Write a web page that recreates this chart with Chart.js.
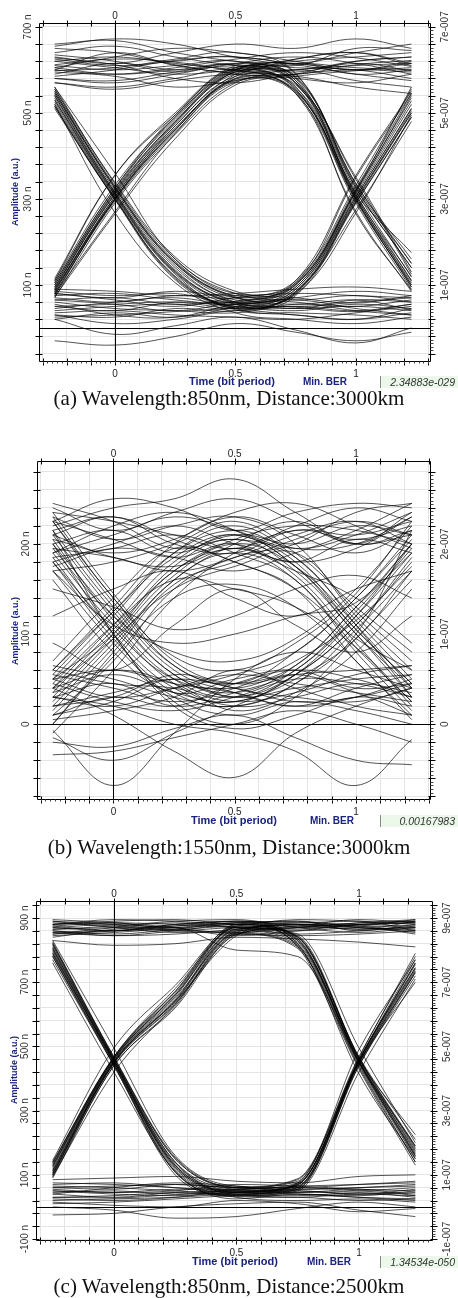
<!DOCTYPE html>
<html>
<head>
<meta charset="utf-8">
<title>Eye diagrams</title>
<script src="https://cdn.jsdelivr.net/npm/chart.js@4.4.1/dist/chart.umd.min.js"></script>
<style>
  body { margin: 0; background: #fff; }
  #page { position: relative; width: 458px; height: 1298px; overflow: hidden; font-family: "Liberation Sans", Arial, sans-serif; }
  canvas { position: absolute; left: 0; }
  .ytitle { position: absolute; font-size: 9px; font-weight: bold; color: #1a237e; white-space: nowrap; transform: translate(-50%, -50%) rotate(-90deg); }
  .xtitle { position: absolute; font-size: 10px; font-weight: bold; color: #1a237e; white-space: nowrap; line-height: 10px; }
  .xtitle.wide { font-size: 11px; line-height: 11px; }
  .berbox { position: absolute; left: 380px; width: 78px; height: 12px; background: #ecf9ea; border-left: 1px solid #888; font-size: 10.5px; font-style: italic; color: #333; text-align: right; line-height: 12px; padding-right: 3px; box-sizing: border-box; }
  .cap { position: absolute; left: 0; width: 458px; text-align: center; font-family: "Liberation Serif", "Times New Roman", serif; font-size: 21px; line-height: 21px; color: #111; white-space: nowrap; }
</style>
</head>
<body>
<div id="page">
  <canvas id="eyeA" width="458" height="379" style="top:0px"></canvas>
  <canvas id="eyeB" width="458" height="381" style="top:436px"></canvas>
  <canvas id="eyeC" width="458" height="382" style="top:876px"></canvas>

  <div class="ytitle" style="left:15px; top:192px">Amplitude (a.u.)</div>
  <div class="xtitle wide" style="left:189px; top:376px">Time (bit period)</div>
  <div class="xtitle" style="left:303px; top:377px">Min. BER</div>
  <div class="berbox" id="berA" style="top:376px"></div>
  <div class="cap" id="capA" style="top:388px"></div>

  <div class="ytitle" style="left:15px; top:631px">Amplitude (a.u.)</div>
  <div class="xtitle wide" style="left:191px; top:815px">Time (bit period)</div>
  <div class="xtitle" style="left:310px; top:816px">Min. BER</div>
  <div class="berbox" id="berB" style="top:815px"></div>
  <div class="cap" id="capB" style="top:837px"></div>

  <div class="ytitle" style="left:14px; top:1070px">Amplitude (a.u.)</div>
  <div class="xtitle wide" style="left:192px; top:1256px">Time (bit period)</div>
  <div class="xtitle" style="left:307px; top:1257px">Min. BER</div>
  <div class="berbox" id="berC" style="top:1256px"></div>
  <div class="cap" id="capC" style="top:1276px"></div>
</div>
<script>
const FONT = '"Liberation Sans", Arial, sans-serif';

// sample times (bit periods) shared by every trace
const TIME = [-0.25, 0, 0.25, 0.5, 0.75, 1, 1.23];
const X_TICKS = [-0.3, -0.2, -0.1, 0, 0.1, 0.2, 0.3, 0.4, 0.5, 0.6, 0.7, 0.8, 0.9, 1, 1.1, 1.2, 1.3];
const X_LABELS = [0, 0.5, 1];

// (a) 850 nm, 3000 km  (amplitudes in n a.u.)
const A_CAPTION = '(a) Wavelength:850nm, Distance:3000km';
const A_BER = '2.34883e-029';
const A_LABEL_VALUES = [100, 300, 500, 700];
const A_LEFT_LABELS = ['100 n', '300 n', '500 n', '700 n'];
const A_RIGHT_LABELS = ['1e-007', '3e-007', '5e-007', '7e-007'];
const A_TRACES = [
  [620, 605, 590, 600, 615, 605, 600],
  [640, 655, 630, 610, 600, 620, 630],
  [580, 570, 590, 615, 630, 615, 590],
  [605, 630, 650, 640, 620, 600, 615],
  [660, 668, 640, 620, 610, 650, 645],
  [595, 585, 560, 575, 600, 575, 560],
  [570, 555, 575, 590, 585, 560, 545],
  [612, 625, 618, 598, 590, 612, 622],
  [585, 600, 622, 630, 612, 590, 575],
  [650, 640, 612, 595, 625, 640, 615],
  [600, 590, 605, 625, 640, 628, 608],
  [628, 612, 580, 570, 590, 600, 595],
  [655, 672, 660, 630, 615, 640, 660],
  [630, 615, 640, 660, 650, 672, 650],
  [610, 600, 610, 620, 575, 310, 120],
  [590, 615, 600, 605, 560, 300, 95],
  [625, 610, 620, 630, 590, 330, 150],
  [570, 560, 580, 600, 545, 270, 85],
  [600, 640, 610, 590, 565, 350, 130],
  [635, 620, 595, 615, 580, 315, 175],
  [605, 590, 600, 612, 570, 305, 110],
  [620, 630, 615, 600, 585, 325, 140],
  [580, 575, 595, 610, 555, 295, 100],
  [598, 605, 625, 640, 592, 335, 160],
  [85, 305, 465, 580, 600, 610, 615],
  [100, 320, 490, 600, 615, 590, 600],
  [70, 290, 450, 570, 590, 620, 630],
  [110, 355, 500, 610, 605, 600, 580],
  [90, 300, 470, 590, 625, 640, 610],
  [95, 315, 480, 595, 580, 570, 590],
  [80, 298, 460, 585, 612, 600, 620],
  [105, 325, 495, 605, 595, 615, 598],
  [92, 312, 478, 598, 620, 630, 640],
  [72, 265, 440, 565, 585, 598, 605],
  [95, 310, 470, 585, 560, 310, 110],
  [80, 295, 455, 575, 545, 290, 90],
  [105, 325, 485, 600, 575, 325, 140],
  [75, 300, 460, 580, 550, 305, 100],
  [115, 355, 495, 605, 570, 345, 125],
  [88, 305, 475, 590, 555, 300, 105],
  [100, 318, 480, 595, 568, 318, 118],
  [85, 300, 462, 578, 552, 298, 95],
  [110, 332, 490, 602, 582, 335, 150],
  [78, 270, 452, 572, 548, 265, 88],
  [530, 310, 130, 55, 45, 50, 40],
  [550, 325, 150, 70, 60, 40, 30],
  [510, 300, 115, 45, 30, 20, 45],
  [560, 360, 160, 80, 65, 75, 60],
  [520, 268, 105, 35, 20, 10, 25],
  [540, 315, 140, 60, 50, 60, 70],
  [535, 312, 132, 58, 48, 38, 55],
  [545, 328, 152, 72, 55, 65, 42],
  [515, 298, 112, 42, 35, 30, 20],
  [555, 338, 165, 85, 70, 58, 75],
  [540, 315, 135, 60, 95, 310, 520],
  [515, 300, 120, 50, 80, 295, 500],
  [555, 330, 155, 75, 105, 350, 545],
  [525, 305, 125, 45, 85, 275, 480],
  [545, 320, 145, 65, 100, 320, 560],
  [530, 308, 128, 55, 90, 305, 510],
  [550, 325, 150, 70, 102, 318, 540],
  [520, 302, 118, 48, 82, 292, 490],
  [560, 335, 160, 80, 110, 332, 555],
  [50, 40, 60, 55, 90, 305, 510],
  [30, 25, 45, 40, 75, 290, 490],
  [70, 60, 75, 70, 100, 320, 535],
  [20, 35, 25, 50, 85, 300, 500],
  [85, 75, 80, 60, 110, 355, 550],
  [40, 50, 55, 45, 82, 298, 505],
  [65, 55, 40, 62, 95, 315, 528],
  [25, 30, 38, 48, 78, 268, 495],
  [80, 70, 85, 75, 105, 325, 545],
  [60, 45, 40, 35, 55, 50, 65],
  [30, 10, 20, 40, 30, 20, 35],
  [75, 80, 65, 55, 70, 85, 75],
  [45, 60, 70, 50, 40, 55, 45],
  [-30, -40, -20, 10, -10, -30, -10],
  [20, -15, 5, 25, -5, -35, 0],
  [90, 85, 75, 80, 90, 95, 85],
  [50, 55, 60, 45, 50, 40, 55],
  [65, 70, 55, 60, 45, 65, 60],
  [35, 40, 30, 25, 20, 35, 50],
  [80, 65, 50, 70, 80, 75, 70],
  [55, 30, 25, 55, 65, 45, 30]
];

// (b) 1550 nm, 3000 km
const B_CAPTION = '(b) Wavelength:1550nm, Distance:3000km';
const B_BER = '0.00167983';
const B_LABEL_VALUES = [0, 100, 200];
const B_LEFT_LABELS = ['0', '100 n', '200 n'];
const B_RIGHT_LABELS = ['0', '1e-007', '2e-007'];
const B_TRACES = [
  [210, 230, 200, 190, 215, 205, 220],
  [240, 215, 235, 250, 225, 200, 210],
  [180, 200, 220, 200, 180, 195, 230],
  [225, 250, 240, 215, 235, 245, 240],
  [195, 185, 170, 185, 210, 225, 200],
  [220, 240, 250, 272, 235, 200, 215],
  [190, 210, 230, 215, 195, 210, 235],
  [235, 225, 210, 195, 220, 240, 225],
  [205, 190, 205, 235, 245, 220, 195],
  [175, 195, 185, 170, 190, 215, 245],
  [200, 215, 190, 210, 175, 100, 40],
  [230, 205, 220, 230, 200, 120, 60],
  [185, 195, 210, 190, 160, 85, 25],
  [215, 230, 205, 180, 150, 70, 10],
  [170, 180, 200, 225, 190, 130, 80],
  [245, 225, 195, 205, 185, 110, 30],
  [225, 205, 185, 200, 165, 90, 20],
  [190, 220, 235, 215, 180, 105, 45],
  [210, 185, 175, 195, 170, 140, 90],
  [40, 110, 180, 210, 200, 220, 210],
  [20, 90, 160, 200, 225, 200, 235],
  [60, 130, 200, 230, 210, 190, 215],
  [10, 70, 150, 185, 200, 235, 245],
  [50, 100, 170, 195, 180, 205, 190],
  [-10, 60, 140, 190, 215, 210, 225],
  [35, 105, 170, 205, 220, 215, 200],
  [55, 125, 190, 215, 195, 200, 230],
  [0, 80, 155, 180, 205, 225, 210],
  [30, 100, 175, 205, 170, 100, 30],
  [50, 120, 190, 220, 185, 115, 50],
  [15, 85, 160, 190, 160, 80, 15],
  [70, 140, 195, 180, 150, 95, 60],
  [40, 95, 150, 175, 190, 125, 70],
  [0, 75, 140, 155, 130, 70, 5],
  [25, 95, 165, 200, 175, 110, 40],
  [60, 125, 185, 210, 175, 105, 45],
  [45, 110, 160, 150, 130, 85, 25],
  [190, 110, 45, 20, 30, 45, 35],
  [215, 130, 60, 35, 20, 30, 50],
  [170, 90, 30, 10, 25, 15, 0],
  [235, 145, 70, 45, 55, 60, 65],
  [200, 100, 20, -5, 10, 30, 20],
  [160, 80, 35, 50, 60, 40, 45],
  [200, 120, 55, 30, 40, 50, 55],
  [225, 140, 65, 40, 30, 25, 40],
  [180, 105, 50, 40, 55, 35, 10],
  [205, 115, 50, 30, 60, 120, 190],
  [180, 95, 35, 20, 45, 105, 170],
  [225, 135, 65, 45, 80, 140, 210],
  [195, 120, 80, 70, 95, 150, 220],
  [215, 100, 25, 0, 30, 95, 160],
  [170, 110, 90, 100, 120, 135, 200],
  [210, 125, 55, 35, 65, 130, 200],
  [185, 100, 40, 25, 55, 110, 185],
  [230, 140, 75, 60, 90, 145, 225],
  [30, 45, 20, 35, 60, 125, 195],
  [50, 30, 40, 55, 80, 140, 205],
  [10, 25, 50, 30, 55, 110, 180],
  [65, 50, 30, 20, 45, 100, 215],
  [-15, -40, -10, 20, 50, 95, 170],
  [40, 60, 45, 15, 35, 80, 150],
  [35, 55, 35, 25, 55, 120, 200],
  [20, 30, 55, 45, 65, 130, 190],
  [55, 40, 25, 40, 70, 115, 175],
  [20, 35, 50, 40, 25, 30, 45],
  [45, 25, 15, 30, 50, 45, 30],
  [5, 15, 30, 60, 40, 20, 10],
  [60, 45, 40, 25, 35, 55, 65],
  [30, 20, 40, 55, 45, 35, 25],
  [50, 60, 45, 35, 20, 40, 55],
  [10, 30, 20, 45, 60, 50, 30],
  [120, 150, 170, 140, 120, 150, 170],
  [90, 60, 110, 150, 110, 80, 120],
  [150, 130, 105, 120, 150, 165, 140],
  [-7, -68, -10, 50, 80, 60, 40],
  [40, 10, -30, -59, -10, 20, 40],
  [30, 20, 0, -10, -30, -68, -17],
  [-34, -30, -15, 0, 15, 0, -20],
  [-20, -25, -5, 10, -15, -40, -45]
];

// (c) 850 nm, 2500 km
const C_CAPTION = '(c) Wavelength:850nm, Distance:2500km';
const C_BER = '1.34534e-050';
const C_LABEL_VALUES = [-100, 100, 300, 500, 700, 900];
const C_LEFT_LABELS = ['-100 n', '100 n', '300 n', '500 n', '700 n', '900 n'];
const C_RIGHT_LABELS = ['-1e-007', '1e-007', '3e-007', '5e-007', '7e-007', '9e-007'];
const C_TRACES = [
  [870, 860, 875, 890, 880, 870, 860],
  [890, 880, 860, 855, 870, 885, 895],
  [850, 870, 885, 870, 850, 860, 875],
  [880, 895, 890, 880, 895, 890, 880],
  [860, 845, 850, 865, 880, 875, 850],
  [895, 885, 870, 845, 860, 880, 890],
  [830, 815, 820, 840, 835, 825, 810],
  [875, 885, 880, 870, 865, 880, 885],
  [855, 860, 870, 885, 890, 870, 865],
  [890, 870, 855, 860, 875, 895, 885],
  [865, 875, 890, 895, 870, 855, 870],
  [845, 855, 865, 850, 845, 850, 860],
  [880, 890, 895, 880, 875, 865, 890],
  [870, 880, 870, 880, 840, 460, 170],
  [850, 860, 880, 890, 820, 415, 150],
  [885, 875, 860, 870, 850, 495, 200],
  [860, 850, 865, 885, 810, 430, 130],
  [840, 865, 870, 800, 780, 450, 190],
  [865, 870, 875, 885, 830, 450, 160],
  [880, 885, 865, 875, 845, 465, 185],
  [855, 845, 860, 880, 815, 435, 140],
  [875, 860, 880, 890, 835, 455, 175],
  [110, 455, 650, 860, 880, 875, 870],
  [90, 440, 620, 850, 870, 885, 890],
  [130, 465, 670, 870, 860, 870, 855],
  [100, 450, 640, 845, 885, 880, 875],
  [145, 495, 690, 880, 890, 860, 880],
  [120, 460, 660, 865, 875, 880, 885],
  [105, 448, 635, 855, 880, 865, 870],
  [140, 468, 680, 875, 885, 890, 860],
  [95, 420, 630, 848, 870, 875, 895],
  [115, 455, 645, 865, 825, 455, 165],
  [95, 440, 625, 850, 805, 440, 140],
  [135, 465, 665, 875, 840, 465, 190],
  [105, 450, 640, 855, 815, 450, 155],
  [125, 460, 655, 870, 830, 460, 225],
  [112, 452, 642, 860, 820, 452, 160],
  [128, 462, 660, 872, 835, 462, 180],
  [100, 446, 632, 852, 810, 445, 150],
  [138, 468, 672, 880, 842, 468, 210],
  [790, 450, 120, 40, 35, 45, 30],
  [810, 460, 140, 55, 50, 40, 55],
  [770, 440, 100, 30, 20, 25, 15],
  [830, 495, 160, 65, 60, 70, 75],
  [760, 420, 110, 25, 40, 30, 20],
  [795, 452, 125, 45, 40, 35, 50],
  [805, 458, 135, 50, 45, 55, 35],
  [780, 445, 108, 32, 30, 20, 25],
  [820, 465, 150, 60, 55, 60, 65],
  [800, 450, 125, 45, 70, 455, 760],
  [780, 440, 110, 35, 55, 440, 730],
  [820, 465, 150, 60, 85, 465, 790],
  [790, 455, 130, 50, 65, 450, 700],
  [815, 460, 140, 40, 75, 460, 745],
  [805, 455, 130, 48, 72, 458, 770],
  [785, 445, 115, 38, 60, 445, 735],
  [825, 468, 155, 62, 88, 468, 780],
  [40, 30, 45, 50, 65, 450, 740],
  [20, 25, 30, 40, 55, 440, 720],
  [60, 55, 70, 60, 80, 490, 770],
  [75, 70, 60, 45, 70, 455, 755],
  [10, 15, 25, 35, 50, 420, 710],
  [30, 28, 38, 45, 60, 448, 730],
  [50, 45, 55, 55, 75, 458, 760],
  [65, 60, 50, 40, 68, 452, 745],
  [50, 40, 35, 45, 50, 40, 45],
  [25, 20, 30, 50, 40, 30, 25],
  [70, 75, 60, 55, 65, 70, 80],
  [40, 60, 75, 65, 45, 50, 60],
  [0, -10, -35, -30, -5, 15, 0],
  [15, 5, 0, 20, 10, -15, -5],
  [85, 90, 95, 80, 75, 95, 100],
  [45, 50, 40, 55, 60, 50, 40],
  [30, 35, 45, 35, 30, 40, 35],
  [60, 65, 70, 60, 55, 60, 70],
  [55, 45, 50, 70, 65, 55, 50],
  [-25, -20, 0, 10, 15, -10, -30]
];

function range(from, to, step) {
  const out = [];
  for (let v = from; v <= to + 1e-9; v += step) out.push(Math.round(v * 1000) / 1000);
  return out;
}

function makeFrame(o, xTicks) {
  return {
    id: 'eyeFrame',
    afterDraw(chart) {
      const { ctx, chartArea: a } = chart;
      const xs = chart.scales.x, ys = chart.scales.y;
      const L = Math.round(a.left) + 0.5, R = Math.round(a.right) + 0.5;
      const T = Math.round(a.top) + 0.5, B = Math.round(a.bottom) + 0.5;
      const px = v => Math.round(xs.getPixelForValue(v)) + 0.5;
      const py = v => Math.round(ys.getPixelForValue(v)) + 0.5;
      ctx.save();
      ctx.strokeStyle = '#000';
      ctx.lineWidth = 1;
      ctx.beginPath();
      ctx.moveTo(px(0), T); ctx.lineTo(px(0), B);
      ctx.moveTo(L, py(0)); ctx.lineTo(R, py(0));
      ctx.rect(L, T, R - L, B - T);
      o.yTicks.forEach(v => {
        const y = py(v);
        ctx.moveTo(L - 4, y); ctx.lineTo(L + 3, y);
        ctx.moveTo(R - 2, y); ctx.lineTo(R + 5, y);
      });
      xTicks.forEach(v => {
        const x = px(v);
        ctx.moveTo(x, T - 3); ctx.lineTo(x, T + 3);
        ctx.moveTo(x, B - 3); ctx.lineTo(x, B + 4);
      });
      ctx.stroke();

      // dense minor ticks on the right and bottom axes
      ctx.beginPath();
      ctx.strokeStyle = '#444';
      for (let i = 0; i < o.yTicks.length - 1; i++) {
        const d = (o.yTicks[i + 1] - o.yTicks[i]) / 5;
        for (let k = 1; k < 5; k++) {
          const y = py(o.yTicks[i] + d * k);
          ctx.moveTo(R, y); ctx.lineTo(R + 3, y);
        }
      }
      for (let v = Math.ceil(o.xMin * 50) / 50; v <= o.xMax; v += 0.02) {
        const x = px(v);
        ctx.moveTo(x, B); ctx.lineTo(x, B + 2);
      }
      ctx.stroke();

      ctx.fillStyle = '#333';
      ctx.font = '10px ' + FONT;
      ctx.textAlign = 'center';
      ctx.textBaseline = 'middle';
      o.labelValues.forEach((v, i) => {
        const y = ys.getPixelForValue(v);
        ctx.save();
        ctx.translate(a.left - 11, y);
        ctx.rotate(-Math.PI / 2);
        ctx.fillText(o.leftLabels[i], 0, 0);
        ctx.restore();
        ctx.save();
        ctx.translate(a.right + 15, y);
        ctx.rotate(-Math.PI / 2);
        ctx.fillText(o.rightLabels[i], 0, 0);
        ctx.restore();
      });
      ctx.restore();
    }
  };
}

function makeEye(id, o) {
  const canvas = document.getElementById(id);
  const xTicks = X_TICKS.filter(v => v >= o.xMin && v <= o.xMax);
  const fmtX = v => {
    const l = X_LABELS.find(x => Math.abs(x - v) < 1e-6);
    return l === undefined ? '' : String(l);
  };
  const xAxis = (pos, h, pad) => ({
    type: 'linear', position: pos, min: o.xMin, max: o.xMax,
    afterBuildTicks: s => { s.ticks = xTicks.map(v => ({ value: v })); },
    afterFit: s => { s.height = h; },
    ticks: { autoSkip: false, maxRotation: 0, minRotation: 0, padding: pad, color: '#222', font: { size: 10, family: FONT }, callback: fmtX },
    grid: { display: pos === 'bottom', color: '#e4e4e4', drawTicks: false },
    border: { display: false }
  });
  const datasets = o.traces.map(v => ({
    data: TIME.map((t, i) => ({ x: t, y: v[i] })),
    borderColor: 'rgba(0,0,0,0.85)',
    borderWidth: 0.8,
    pointRadius: 0,
    fill: false,
    tension: o.tension,
    cubicInterpolationMode: o.monotone ? 'monotone' : 'default'
  }));
  return new Chart(canvas, {
    type: 'line',
    data: { datasets },
    options: {
      responsive: false,
      animation: false,
      layout: { padding: 0 },
      plugins: { legend: { display: false }, tooltip: { enabled: false } },
      scales: {
        x: xAxis('bottom', o.bottomH, 7),
        xTop: xAxis('top', o.topH, 1),
        y: {
          type: 'linear', position: 'left', min: o.yMin, max: o.yMax,
          afterBuildTicks: s => { s.ticks = o.yTicks.map(v => ({ value: v })); },
          afterFit: s => { s.width = o.left; },
          ticks: { display: false },
          grid: { color: '#e4e4e4', drawTicks: false },
          border: { display: false }
        },
        yRight: {
          type: 'linear', position: 'right', min: o.yMin, max: o.yMax,
          afterFit: s => { s.width = 458 - o.right; },
          ticks: { display: false },
          grid: { display: false },
          border: { display: false }
        }
      }
    },
    plugins: [makeFrame(o, xTicks)]
  });
}

makeEye('eyeA', {
  traces: A_TRACES, tension: 0.4, monotone: false,
  xMin: -0.315, xMax: 1.307, yMin: -77, yMax: 709,
  yTicks: range(-60, 700, 40),
  labelValues: A_LABEL_VALUES, leftLabels: A_LEFT_LABELS, rightLabels: A_RIGHT_LABELS,
  left: 39, right: 430, topH: 23, bottomH: 18
});
makeEye('eyeB', {
  traces: B_TRACES, tension: 0.4, monotone: false,
  xMin: -0.315, xMax: 1.305, yMin: -83, yMax: 292,
  yTicks: range(-80, 280, 20),
  labelValues: B_LABEL_VALUES, leftLabels: B_LEFT_LABELS, rightLabels: B_RIGHT_LABELS,
  left: 37, right: 430, topH: 25, bottomH: 18
});
makeEye('eyeC', {
  traces: C_TRACES, tension: 0, monotone: true,
  xMin: -0.318, xMax: 1.298, yMin: -103, yMax: 953,
  yTicks: range(-100, 940, 40),
  labelValues: C_LABEL_VALUES, leftLabels: C_LEFT_LABELS, rightLabels: C_RIGHT_LABELS,
  left: 36, right: 432, topH: 25, bottomH: 18
});

document.getElementById('berA').textContent = A_BER;
document.getElementById('berB').textContent = B_BER;
document.getElementById('berC').textContent = C_BER;
document.getElementById('capA').textContent = A_CAPTION;
document.getElementById('capB').textContent = B_CAPTION;
document.getElementById('capC').textContent = C_CAPTION;
</script>
</body>
</html>
